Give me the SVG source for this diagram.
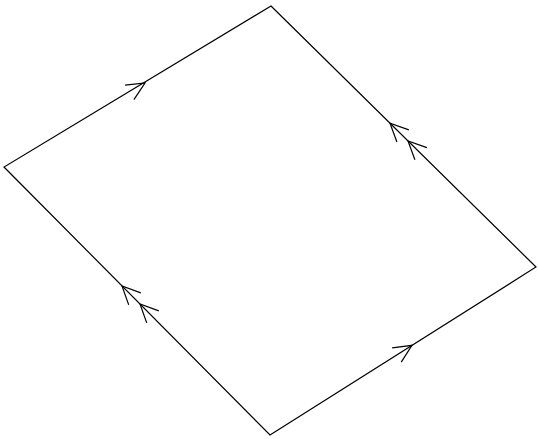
<svg xmlns="http://www.w3.org/2000/svg" xmlns:xlink="http://www.w3.org/1999/xlink" width="538" height="439" viewBox="0 0 538 439">
<style>
.e{fill:none;stroke:#000;stroke-width:1.2;stroke-linejoin:miter}
</style>
<defs>
<path id="chev" class="e" d="M-18.1,-8.5 L0,0 L-18.1,8.5"/>
</defs>
<rect width="538" height="439" fill="#fff"/>
<g id="connectors">
<path class="e" d="M271,6 L536,267 L270,435 L4,167 Z"/>
<use xlink:href="#chev" transform="translate(145,83) rotate(-31.1)"/>
<use xlink:href="#chev" transform="translate(390,123.2) rotate(-135.4)"/>
<use xlink:href="#chev" transform="translate(408,141) rotate(-135.4)"/>
<use xlink:href="#chev" transform="translate(122,286) rotate(-134.8)"/>
<use xlink:href="#chev" transform="translate(140,304) rotate(-134.8)"/>
<use xlink:href="#chev" transform="translate(412,345.3) rotate(-32.3)"/>
</g>
</svg>
